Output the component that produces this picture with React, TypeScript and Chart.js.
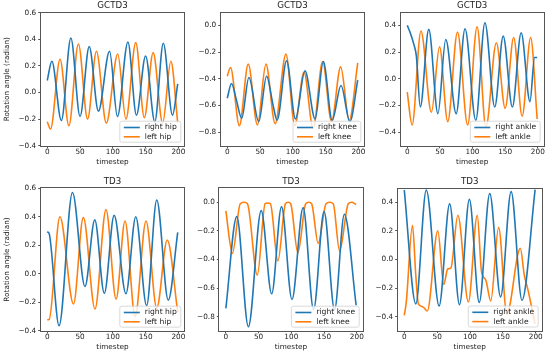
import React, { useEffect, useRef } from "react";
import { Chart, registerables } from "chart.js";

Chart.register(...registerables);

type P = [number, number];

// ---------- data ----------
const xTicks = [0, 50, 100, 150, 200];
const xRange = [-10, 209];

const hipTicks = [-0.4, -0.2, 0, 0.2, 0.4, 0.6];
const kneeTicks = [-0.8, -0.6, -0.4, -0.2, 0];
const ankleTicks = [-0.4, -0.2, 0, 0.2, 0.4];

const gctdHipRange = [-0.4, 0.6];
const gctdKneeRange = [-0.9, 0.095];
const gctdAnkleRange = [-0.5, 0.495];
const tdHipRange = [-0.4, 0.6];
const tdKneeRange = [-0.898, 0.098];
const tdAnkleRange = [-0.496, 0.4915];

// GCTD3
const gctdRightHip: P[] = [[0, 0.09], [7, 0.235], [21.5, -0.21], [36, 0.41], [50, -0.18], [64, 0.345], [78, -0.14], [95, 0.31], [107, -0.18], [123, 0.38], [136, -0.17], [150, 0.275], [164, -0.22], [177, 0.37], [191, -0.17], [199, 0.065]];
const gctdLeftHip: P[] = [[0, -0.22], [5, -0.275], [19.5, 0.25], [33, -0.25], [47.5, 0.365], [61.5, -0.2], [75, 0.31], [90, -0.23], [107.5, 0.29], [120, -0.2], [135, 0.375], [148, -0.19], [161.5, 0.3], [176, -0.23], [188.5, 0.235], [199, -0.23]];
const gctdRightKnee: P[] = [[0, -0.545], [6.5, -0.435], [14, -0.56], [22, -0.695], [33, -0.39], [48, -0.72], [60, -0.38], [70, -0.6], [76, -0.71], [90.5, -0.265], [104, -0.7], [118.5, -0.34], [134, -0.7], [146.5, -0.27], [160, -0.71], [173.5, -0.45], [187, -0.72], [199, -0.41]];
const gctdLeftKnee: P[] = [[0, -0.38], [5, -0.315], [18.5, -0.75], [32, -0.29], [46, -0.745], [59, -0.29], [73, -0.735], [89.5, -0.215], [103, -0.75], [117, -0.35], [131, -0.77], [145.5, -0.27], [159, -0.72], [173, -0.31], [186, -0.71], [199, -0.28]];
const gctdRightAnkle: P[] = [[0, 0.4], [5, 0.34], [10, 0.26], [14, 0.17], [20, -0.21], [33, 0.37], [47, -0.26], [59, 0.295], [75, -0.26], [88.5, 0.375], [105, -0.31], [119, 0.42], [134, -0.21], [147, 0.32], [161, -0.21], [174.5, 0.345], [188, -0.17], [195, 0.16], [199, 0.16]];
const gctdLeftAnkle: P[] = [[0, -0.1], [7.5, -0.345], [21, 0.358], [37, -0.25], [49.5, 0.24], [62, -0.32], [77, 0.35], [92.5, -0.345], [107, 0.39], [120.5, -0.36], [136.5, 0.27], [150, -0.22], [163, 0.31], [176, -0.28], [189, 0.31], [199, -0.3]];

// TD3
const tdRightHip: P[] = [[0, 0.295], [3, 0.28], [18, -0.365], [38.5, 0.57], [57.5, -0.09], [72.5, 0.378], [87, -0.138], [102, 0.41], [120, -0.14], [135, 0.4], [151.5, -0.224], [167, 0.518], [184.5, -0.185], [199, 0.29]];
const tdLeftHip: P[] = [[0, -0.323], [3, -0.32], [19.3, 0.4], [40, -0.213], [55, 0.396], [72.8, -0.248], [89.6, 0.45], [105, -0.178], [118.6, 0.37], [134, -0.3], [150.6, 0.37], [167, -0.24], [183, 0.237], [199, -0.27]];
const tdRightKnee: P[] = [[0, -0.742], [16.7, -0.1], [34.4, -0.87], [54, -0.058], [70, -0.64], [85, -0.03], [101, -0.68], [118, -0.037], [134, -0.75], [150, -0.065], [166, -0.75], [181, -0.084], [199, -0.72]];
const tdLeftKnee: P[] = [[0, -0.06], [10, -0.357], [22, -0.01], [28, 0], [33, -0.01], [48, -0.51], [60, -0.01], [64, -0.005], [68, -0.01], [79.5, -0.41], [91, -0.01], [95, 0], [99, -0.01], [110, -0.352], [122, -0.01], [126.5, 0], [131, -0.01], [141, -0.287], [153, -0.01], [158.5, 0], [164, -0.01], [173.7, -0.34], [187, -0.01], [192, 0], [199, -0.015]];
const tdRightAnkle: P[] = [[0, 0.484], [17.5, -0.31], [33.5, 0.484], [53, -0.325], [69, 0.388], [84, -0.316], [99, 0.419], [114, -0.3], [130, 0.459], [146.5, -0.262], [162.5, 0.473], [179, -0.285], [199, 0.487]];
const tdLeftAnkle: P[] = [[0, -0.39], [3, -0.3], [12.5, 0.238], [17.5, -0.11], [21.5, -0.31], [28, -0.33], [35, -0.36], [51, 0.2], [60, -0.175], [66, -0.067], [71, -0.058], [81.5, 0.308], [97.5, -0.297], [111, 0.308], [117.5, -0.086], [124, -0.144], [131.5, -0.29], [143.5, 0.224], [156, -0.38], [176.5, 0.078], [182.5, -0.11], [187.5, -0.2], [199, -0.45]];

// ---------- styling ----------
const BLUE = "#1f77b4";
const ORANGE = "#ff7f0e";
const TEXT = "#222";
const AXIS = "#555";
const FAMILY = "'DejaVu Sans', sans-serif";
const FS = 7.3;
const LEG_FS = 7.6;

type Spec = {
  title: string;
  yLabel?: string;
  canvas: [number, number, number, number]; // x, y, w, h
  box: [number, number, number, number]; // L, T, R, B
  yRange: number[];
  yTicks: number[];
  series: { label: string; data: P[]; color: string }[];
};

const specs: Spec[] = [
  { title: "GCTD3", yLabel: "Rotation angle (radian)", canvas: [0, 0, 190, 175], box: [40.7, 12.7, 184.3, 145.7], yRange: gctdHipRange, yTicks: hipTicks,
    series: [{ label: "right hip", data: gctdRightHip, color: BLUE }, { label: "left hip", data: gctdLeftHip, color: ORANGE }] },
  { title: "GCTD3", canvas: [190, 0, 180, 175], box: [220.7, 12.7, 364.3, 145.7], yRange: gctdKneeRange, yTicks: kneeTicks,
    series: [{ label: "right knee", data: gctdRightKnee, color: BLUE }, { label: "left knee", data: gctdLeftKnee, color: ORANGE }] },
  { title: "GCTD3", canvas: [370, 0, 180, 175], box: [400.7, 12.7, 543.7, 145.7], yRange: gctdAnkleRange, yTicks: ankleTicks,
    series: [{ label: "right ankle", data: gctdRightAnkle, color: BLUE }, { label: "left ankle", data: gctdLeftAnkle, color: ORANGE }] },
  { title: "TD3", yLabel: "Rotation angle (radian)", canvas: [0, 175, 190, 179], box: [40.7, 188.3, 184.3, 330.7], yRange: tdHipRange, yTicks: hipTicks,
    series: [{ label: "right hip", data: tdRightHip, color: BLUE }, { label: "left hip", data: tdLeftHip, color: ORANGE }] },
  { title: "TD3", canvas: [190, 175, 180, 179], box: [219.3, 188.3, 362.7, 330.7], yRange: tdKneeRange, yTicks: kneeTicks,
    series: [{ label: "right knee", data: tdRightKnee, color: BLUE }, { label: "left knee", data: tdLeftKnee, color: ORANGE }] },
  { title: "TD3", canvas: [370, 175, 180, 179], box: [397.7, 189, 541.7, 330.5], yRange: tdAnkleRange, yTicks: ankleTicks,
    series: [{ label: "right ankle", data: tdRightAnkle, color: BLUE }, { label: "left ankle", data: tdLeftAnkle, color: ORANGE }] },
];

const fmtY = (v: number) => v.toFixed(1).replace("-", "\u2212");

function Panel({ spec }: { spec: Spec }) {
  const ref = useRef<HTMLCanvasElement>(null);
  useEffect(() => {
    const [cx, cy, cw, ch] = spec.canvas;
    const [L, T, R, B] = spec.box;
    const yAxisW = L - cx;
    const xAxisH = cy + ch - B;
    const lh = FS * 1.2;

    const decor = {
      id: "decor",
      afterDatasetsDraw(chart: any) {
        const { ctx, chartArea: a } = chart;
        ctx.save();
        ctx.strokeStyle = AXIS;
        ctx.lineWidth = 1;
        const l = Math.round(a.left) - 0.5, t = Math.round(a.top) - 0.5;
        const r = Math.round(a.right) + 0.5, b = Math.round(a.bottom) + 0.5;
        ctx.strokeRect(l, t, r - l, b - t);
        ctx.font = `${LEG_FS}px ${FAMILY}`;
        const tw = Math.max(...spec.series.map((s) => ctx.measureText(s.label).width));
        const w = 4 + 16 + 5 + tw + 4;
        const h = 21;
        const lx = a.right - 3.5 - w;
        const ly = a.bottom - 3.5 - h;
        ctx.beginPath();
        const rad = 2;
        ctx.moveTo(lx + rad, ly);
        ctx.lineTo(lx + w - rad, ly);
        ctx.quadraticCurveTo(lx + w, ly, lx + w, ly + rad);
        ctx.lineTo(lx + w, ly + h - rad);
        ctx.quadraticCurveTo(lx + w, ly + h, lx + w - rad, ly + h);
        ctx.lineTo(lx + rad, ly + h);
        ctx.quadraticCurveTo(lx, ly + h, lx, ly + h - rad);
        ctx.lineTo(lx, ly + rad);
        ctx.quadraticCurveTo(lx, ly, lx + rad, ly);
        ctx.closePath();
        ctx.fillStyle = "rgba(255,255,255,0.8)";
        ctx.fill();
        ctx.strokeStyle = "#d0d0d0";
        ctx.lineWidth = 0.8;
        ctx.stroke();
        spec.series.forEach((s, i) => {
          const yy = ly + 6.3 + i * 9.3;
          ctx.strokeStyle = s.color;
          ctx.lineWidth = 1.6;
          ctx.beginPath();
          ctx.moveTo(lx + 4, yy);
          ctx.lineTo(lx + 20, yy);
          ctx.stroke();
          ctx.fillStyle = TEXT;
          ctx.textAlign = "left";
          ctx.textBaseline = "middle";
          ctx.fillText(s.label, lx + 25, yy);
        });
        ctx.restore();
      },
      afterDraw(chart: any) {
        const { ctx, chartArea: a } = chart;
        ctx.save();
        ctx.font = `8.7px ${FAMILY}`;
        ctx.fillStyle = TEXT;
        ctx.textAlign = "center";
        ctx.textBaseline = "middle";
        ctx.fillText(spec.title, (a.left + a.right) / 2, a.top - 6.8);
        ctx.restore();
      },
    };

    const chart = new Chart(ref.current!, {
      type: "line",
      data: {
        datasets: spec.series.map((s) => ({
          label: s.label,
          data: s.data.map(([x, y]) => ({ x, y })),
          borderColor: s.color,
          backgroundColor: s.color,
          borderWidth: 1.6,
          pointRadius: 0,
          cubicInterpolationMode: "monotone" as const,
          fill: false,
        })),
      },
      options: {
        animation: false,
        responsive: false,
        devicePixelRatio: 1,
        layout: { padding: { left: 0, top: T - cy, right: cx + cw - R, bottom: 0 } },
        plugins: { legend: { display: false }, tooltip: { enabled: false }, title: { display: false } },
        scales: {
          x: {
            type: "linear",
            min: xRange[0],
            max: xRange[1],
            afterBuildTicks: (s: any) => { s.ticks = xTicks.map((v) => ({ value: v })); },
            afterFit: (s: any) => { s.height = xAxisH; },
            grid: { drawOnChartArea: false, drawTicks: true, tickLength: 2.5, color: AXIS },
            border: { display: false },
            ticks: { padding: 0, color: TEXT, font: { family: FAMILY, size: FS, lineHeight: 1 }, maxRotation: 0, callback: (v: any) => String(v) },
            title: { display: true, text: "timestep", color: TEXT, font: { family: FAMILY, size: FS }, padding: { top: 0, bottom: xAxisH - 16.5 - lh / 2 } },
          },
          y: {
            type: "linear",
            min: spec.yRange[0],
            max: spec.yRange[1],
            afterBuildTicks: (s: any) => { s.ticks = spec.yTicks.map((v) => ({ value: v })); },
            afterFit: (s: any) => { s.width = yAxisW; },
            grid: { drawOnChartArea: false, drawTicks: true, tickLength: 2.5, color: AXIS },
            border: { display: false },
            ticks: { padding: 2, color: TEXT, font: { family: FAMILY, size: FS }, callback: (v: any) => fmtY(Number(v)) },
            title: spec.yLabel
              ? { display: true, text: spec.yLabel, color: TEXT, font: { family: FAMILY, size: FS }, padding: { top: (L - 33.4 - cx) - lh / 2, bottom: 0 } }
              : { display: false },
          },
        },
      },
      plugins: [decor],
    } as any);
    return () => chart.destroy();
  }, [spec]);
  const [cx, cy, cw, ch] = spec.canvas;
  return (
    <canvas
      ref={ref}
      width={cw}
      height={ch}
      style={{ position: "absolute", left: cx, top: cy, width: cw, height: ch }}
    />
  );
}

export default function App() {
  return (
    <div style={{ position: "absolute", left: 0, top: 0, width: 550, height: 354, background: "#fff", overflow: "hidden" }}>
      {specs.map((s, i) => (
        <Panel key={i} spec={s} />
      ))}
    </div>
  );
}
